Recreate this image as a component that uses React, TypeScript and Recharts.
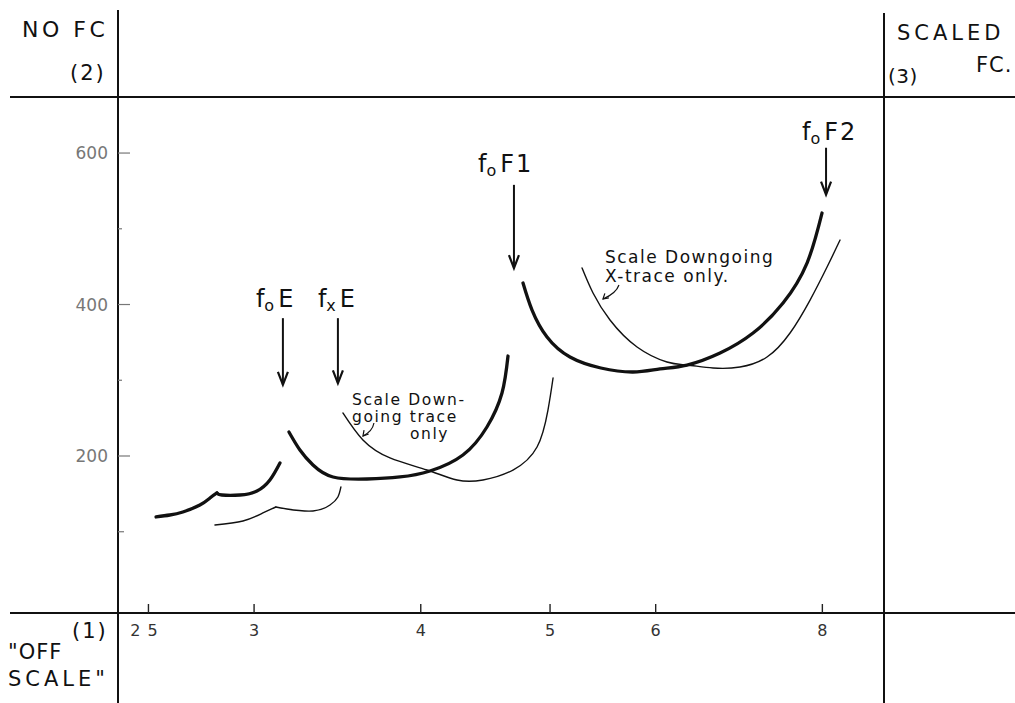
import React from 'react';
import { LineChart, Line, XAxis, YAxis, ReferenceLine, ReferenceDot } from 'recharts';

// ---------- data ----------
const xTicks = [2.5, 3, 4, 5, 6, 8];
const xTickLabels = ['2 5', '3', '4', '5', '6', '8'];
const yTicks = [100, 200, 300, 400, 500, 600];
const yTickLabels = ['', '200', '', '400', '', '600'];

// E layer, ordinary trace (thick) – two branches meeting at a cusp
const eOrdLow = [
  { f: 2.533, h: 119.5 }, { f: 2.594, h: 122.1 }, { f: 2.653, h: 126.1 },
  { f: 2.732, h: 135.3 }, { f: 2.78, h: 144.6 }, { f: 2.814, h: 151.2 },
];
const eOrdHigh = [
  { f: 2.814, h: 151.2 }, { f: 2.838, h: 148.5 }, { f: 2.928, h: 148.5 },
  { f: 3.015, h: 153.8 }, { f: 3.083, h: 168.3 }, { f: 3.137, h: 190.8 },
];
// E layer, extraordinary trace (thin)
const eExtLow = [
  { f: 2.804, h: 108.9 }, { f: 2.943, h: 114.2 }, { f: 3.046, h: 124.8 }, { f: 3.115, h: 132.7 },
];
const eExtHigh = [
  { f: 3.115, h: 132.7 }, { f: 3.175, h: 130.0 }, { f: 3.321, h: 127.4 },
  { f: 3.42, h: 135.3 }, { f: 3.467, h: 145.9 }, { f: 3.485, h: 159.1 },
];
// F1 layer
const f1Ord = [
  { f: 3.186, h: 231.7 }, { f: 3.247, h: 207.9 }, { f: 3.321, h: 188.1 }, { f: 3.438, h: 172.3 },
  { f: 3.645, h: 169.6 }, { f: 3.859, h: 172.3 }, { f: 4.064, h: 180.2 }, { f: 4.302, h: 201.3 },
  { f: 4.484, h: 238.3 }, { f: 4.602, h: 283.2 }, { f: 4.65, h: 332.0 },
];
const f1Ext = [
  { f: 3.497, h: 256.8 }, { f: 3.62, h: 221.1 }, { f: 3.793, h: 197.4 }, { f: 4.043, h: 181.5 },
  { f: 4.258, h: 168.3 }, { f: 4.453, h: 168.3 }, { f: 4.69, h: 181.5 }, { f: 4.889, h: 211.9 },
  { f: 4.982, h: 260.7 }, { f: 5.026, h: 303.0 },
];
// F2 layer
const f2Ord = [
  { f: 4.772, h: 428.4 }, { f: 4.847, h: 392.7 }, { f: 4.974, h: 357.1 }, { f: 5.175, h: 330.7 },
  { f: 5.458, h: 316.2 }, { f: 5.77, h: 310.9 }, { f: 6.045, h: 314.9 }, { f: 6.333, h: 320.1 },
  { f: 6.705, h: 336.0 }, { f: 7.098, h: 362.4 }, { f: 7.475, h: 402.0 }, { f: 7.791, h: 454.8 },
  { f: 7.995, h: 520.8 },
];
const f2Ext = [
  { f: 5.284, h: 448.2 }, { f: 5.385, h: 415.2 }, { f: 5.545, h: 379.5 }, { f: 5.81, h: 343.9 },
  { f: 6.118, h: 324.1 }, { f: 6.333, h: 320.1 }, { f: 6.624, h: 316.2 }, { f: 6.94, h: 317.5 },
  { f: 7.271, h: 330.7 }, { f: 7.566, h: 362.4 }, { f: 7.832, h: 405.9 }, { f: 8.065, h: 449.5 },
  { f: 8.248, h: 485.1 },
];

// critical frequencies (arrows)
const criticalLabels = [['f', 'o', 'E'], ['f', 'x', 'E'], ['f', 'o', 'F1'], ['f', 'o', 'F2']];
const criticalFreqs = [3.153, 3.467, 4.698, 8.051];
const arrowTopH = [382, 382, 558, 607];
const arrowTipH = [294, 296, 448, 545];

// callouts
const calloutAnchors = [{ f: 3.552, h: 267.3 }, { f: 5.497, h: 454.8 }];
const calloutLines = [['Scale Down-', 'going trace', 'only'], ['Scale Downgoing', 'X-trace only.']];

// ---------- styles / layout ----------
const FONT = '"DejaVu Sans", "Liberation Sans", sans-serif';
const INK = '#111';
const labelDx = [-27, -20, -36, -24];
const labelGap = [11, 11, 13, 8];
const calloutStyle = [
  { size: 15.5, spacing: 1.6, lineH: 17, dx: [0, 0, 58],
    arrow: 'M22,18 C21,24 17,28 11,31', head: 'M16.7,29 L11,31 L12.1,25.1' },
  { size: 17, spacing: 1.5, lineH: 19, dx: [0, 0],
    arrow: 'M14,22 C12,28 5,33 -2,36', head: 'M3.9,34.8 L-2,36 L-0.1,30.3' },
];

const XTick = (props: any) => {
  const { x, y, payload } = props;
  const i = xTicks.indexOf(payload.value);
  return (
    <g>
      <line x1={x} y1={y} x2={x} y2={y - 9} stroke="#222" strokeWidth={1.4} />
      <text x={x + (i === 0 ? -4 : 0)} y={y + 23} textAnchor="middle" fontSize={16}
        fontFamily={FONT} fill="#333" letterSpacing={i === 0 ? 1 : 0}>
        {i >= 0 ? xTickLabels[i] : ''}
      </text>
    </g>
  );
};

const YTick = (props: any) => {
  const { x, y, payload } = props;
  const i = yTicks.indexOf(payload.value);
  const label = i >= 0 ? yTickLabels[i] : '';
  const len = label ? 12 : payload.value === 100 ? 6 : 4;
  return (
    <g>
      <line x1={x} y1={y} x2={x + len} y2={y} stroke="#777" strokeWidth={1.2} />
      {label && (
        <text x={x - 10} y={y + 6} textAnchor="end" fontSize={17} fontFamily={FONT} fill="#777">
          {label}
        </text>
      )}
    </g>
  );
};

const makeArrow = (i: number) => (props: any) => {
  const { x1, y1, y2 } = props;
  const top = Math.min(y1, y2);
  const bot = Math.max(y1, y2);
  const [a, b, c] = criticalLabels[i];
  return (
    <g>
      <line x1={x1} y1={top} x2={x1} y2={bot} stroke={INK} strokeWidth={2} />
      <path d={`M${x1 - 5},${bot - 13} L${x1},${bot} L${x1 + 5},${bot - 13}`} fill="none"
        stroke={INK} strokeWidth={2.2} />
      <text x={x1 + labelDx[i]} y={top - labelGap[i]} fontSize={24} fontFamily={FONT} fill={INK}>
        {a}
        <tspan fontSize={16} dy={4}>{b}</tspan>
        <tspan fontSize={24} dy={-4} dx={4} letterSpacing={2}>{c}</tspan>
      </text>
    </g>
  );
};

const makeCallout = (i: number) => (props: any) => {
  const { cx, cy } = props;
  const st = calloutStyle[i];
  return (
    <g>
      {calloutLines[i].map((t, k) => (
        <text key={k} x={cx + st.dx[k]} y={cy + k * st.lineH} fontSize={st.size}
          letterSpacing={st.spacing} fontFamily={FONT} fill={INK}>
          {t}
        </text>
      ))}
      <g transform={`translate(${cx},${cy})`}>
        <path d={st.arrow} fill="none" stroke={INK} strokeWidth={1.2} />
        <path d={st.head} fill="none" stroke={INK} strokeWidth={1.2} />
      </g>
    </g>
  );
};

const Frame = () => {
  const t = { fontFamily: FONT, fill: INK } as const;
  return (
    <svg width={1015} height={703} style={{ position: 'absolute', left: 0, top: 0 }}>
      <line x1={118} y1={10} x2={118} y2={703} stroke={INK} strokeWidth={2} />
      <line x1={884} y1={13} x2={884} y2={703} stroke={INK} strokeWidth={2} />
      <line x1={10} y1={97} x2={1015} y2={97} stroke={INK} strokeWidth={2} />
      <line x1={10} y1={613} x2={1015} y2={613} stroke={INK} strokeWidth={2} />
      <text x={22} y={37} fontSize={22} letterSpacing={3.5} {...t}>NO FC</text>
      <text x={70} y={80} fontSize={21} letterSpacing={2} {...t}>(2)</text>
      <text x={897} y={40} fontSize={21} letterSpacing={4} {...t}>SCALED</text>
      <text x={976} y={72} fontSize={21} letterSpacing={1} {...t}>FC.</text>
      <text x={888} y={83} fontSize={20} letterSpacing={0.5} {...t}>(3)</text>
      <text x={72} y={638} fontSize={21} letterSpacing={2} {...t}>(1)</text>
      <text x={8} y={659} fontSize={21} letterSpacing={1} {...t}>"OFF</text>
      <text x={8} y={686} fontSize={21} letterSpacing={4} {...t}>SCALE"</text>
    </svg>
  );
};

const thin = { stroke: INK, strokeWidth: 1.4 };
const thick = { stroke: INK, strokeWidth: 3.3 };

export default function App() {
  const series = [
    { d: eOrdLow, s: thick, t: 'natural' }, { d: eOrdHigh, s: thick, t: 'natural' },
    { d: eExtLow, s: thin, t: 'natural' }, { d: eExtHigh, s: thin, t: 'natural' },
    { d: f1Ord, s: thick, t: 'natural' }, { d: f1Ext, s: thin, t: 'natural' },
    { d: f2Ord, s: thick, t: 'natural' }, { d: f2Ext, s: thin, t: 'natural' },
  ];
  return (
    <div style={{ position: 'absolute', left: 0, top: 0, width: 1015, height: 703, background: '#fff' }}>
      <Frame />
      <div style={{ position: 'absolute', left: 0, top: 0 }}>
        <LineChart width={1015} height={703} margin={{ top: 97, right: 131, bottom: 60, left: 0 }}>
          <XAxis dataKey="f" type="number" scale="log" domain={[2.372, 8.898]} allowDataOverflow
            ticks={xTicks} tick={<XTick />} tickLine={false} tickSize={0} tickMargin={0}
            axisLine={{ stroke: INK, strokeWidth: 2 }} height={30} />
          <YAxis type="number" domain={[-7.3, 674]} allowDataOverflow ticks={yTicks}
            tick={<YTick />} tickLine={false} tickSize={0} tickMargin={0}
            axisLine={{ stroke: INK, strokeWidth: 2 }} width={118} />
          {series.map((sr, i) => (
            <Line key={i} data={sr.d} dataKey="h" type={sr.t as any} dot={false} activeDot={false}
              isAnimationActive={false} stroke={sr.s.stroke} strokeWidth={sr.s.strokeWidth}
              strokeLinecap="round" />
          ))}
          {criticalFreqs.map((f, i) => (
            <ReferenceLine key={'a' + i}
              segment={[{ x: f, y: arrowTopH[i] }, { x: f, y: arrowTipH[i] }]}
              shape={makeArrow(i)} ifOverflow="visible" />
          ))}
          {calloutAnchors.map((p, i) => (
            <ReferenceDot key={'c' + i} x={p.f} y={p.h} r={1} shape={makeCallout(i)}
              ifOverflow="visible" />
          ))}
        </LineChart>
      </div>
    </div>
  );
}
